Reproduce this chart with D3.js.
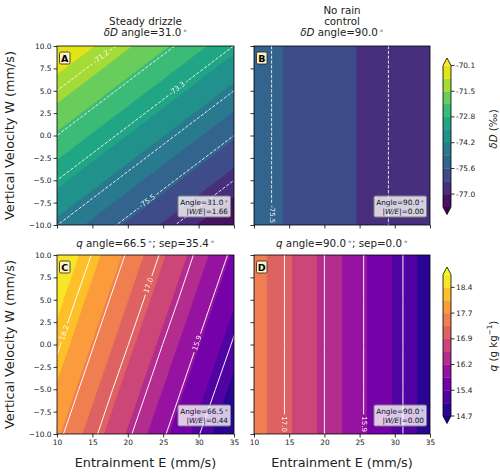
<!DOCTYPE html>
<html>
<head>
<meta charset="utf-8">
<script src="https://cdn.jsdelivr.net/npm/d3@7"></script>
<style>
  body { margin: 0; background: #fff; }
  svg { font-family: 'DejaVu Sans', sans-serif; }
</style>
</head>
<body>
<div id="chart"></div>
<script>
// grid where the fields were read (E along columns, W along rows, W=-10 first)
const entrainmentGrid = [10, 15, 20, 25, 30, 35];
const velocityGrid = [-10, -5, 0, 5, 10];

// panel A: deltaD, steady drizzle (permil)
const dDDrizzle = [
  [-74.41, -75.06, -75.71, -76.36, -77.01, -77.66],
  [-73.33, -73.98, -74.63, -75.28, -75.93, -76.58],
  [-72.25, -72.90, -73.55, -74.20, -74.85, -75.50],
  [-71.17, -71.82, -72.47, -73.12, -73.77, -74.42],
  [-70.09, -70.74, -71.39, -72.04, -72.69, -73.34]
];
// panel B: deltaD, no rain control
const dDNoRain = [
  [-75.34, -75.66, -75.99, -76.31, -76.64, -76.96],
  [-75.34, -75.66, -75.99, -76.31, -76.64, -76.96],
  [-75.34, -75.66, -75.99, -76.31, -76.64, -76.96],
  [-75.34, -75.66, -75.99, -76.31, -76.64, -76.96],
  [-75.34, -75.66, -75.99, -76.31, -76.64, -76.96]
];
// panel C: q, steady drizzle (g/kg)
const qDrizzle = [
  [17.72, 17.12, 16.51, 15.91, 15.30, 14.70],
  [17.98, 17.38, 16.77, 16.17, 15.57, 14.96],
  [18.25, 17.64, 17.04, 16.43, 15.83, 15.23],
  [18.51, 17.90, 17.30, 16.70, 16.09, 15.49],
  [18.77, 18.17, 17.56, 16.96, 16.35, 15.75]
];
// panel D: q, no rain control
const qNoRain = [
  [17.48, 16.96, 16.44, 15.92, 15.40, 14.88],
  [17.48, 16.96, 16.44, 15.92, 15.40, 14.88],
  [17.48, 16.96, 16.44, 15.92, 15.40, 14.88],
  [17.48, 16.96, 16.44, 15.92, 15.40, 14.88],
  [17.48, 16.96, 16.44, 15.92, 15.40, 14.88]
];

const dDFillLevels = [-77.66, -76.97, -76.28, -75.60, -74.91, -74.22, -73.53, -72.84, -72.15, -71.47, -70.78, -70.09];
const dDLineLevels = [-77.66, -76.58, -75.50, -74.42, -73.33, -72.25, -71.17, -70.09];
const dDTicks = [-76.97, -75.60, -74.22, -72.84, -71.47, -70.09];
const dDTickLabels = ['-77.0', '-75.6', '-74.2', '-72.8', '-71.5', '-70.1'];

const qFillLevels = [14.70, 15.07, 15.44, 15.81, 16.18, 16.55, 16.92, 17.29, 17.66, 18.03, 18.40, 18.77];
const qLineLevels = [14.70, 15.28, 15.86, 16.44, 17.03, 17.61, 18.19, 18.77];
const qTicks = [14.70, 15.44, 16.18, 16.92, 17.66, 18.40];
const qTickLabels = ['14.7', '15.4', '16.2', '16.9', '17.7', '18.4'];

const xTicks = [10, 15, 20, 25, 30, 35];
const yTicks = [-10, -7.5, -5, -2.5, 0, 2.5, 5, 7.5, 10];

// where the inline contour labels sit
const labelsA = [{ level: -71.17, text: '-71.2', E: 16.0, W: 9.0 }, { level: -73.33, text: '-73.3', E: 27.1, W: 5.1 }, { level: -75.50, text: '-75.5', E: 22.6, W: -7.2 }];
const labelsB = [{ level: -75.50, text: '-75.5', E: 12.5, W: -8.8 }];
const labelsC = [{ level: 18.19, text: '18.2', E: 11.1, W: 1.3 }, { level: 17.03, text: '17.0', E: 22.6, W: 6.7 }, { level: 15.86, text: '15.9', E: 29.7, W: 0.2 }];
const labelsD = [{ level: 17.03, text: '17.0', E: 14.3, W: -8.9 }, { level: 15.86, text: '15.9', E: 25.7, W: -8.9 }];

const width = 500, height = 473;
const svg = d3.select('#chart').append('svg')
  .attr('width', width).attr('height', height);
const defs = svg.append('defs');

const cols = [{ x0: 57, x1: 234 }, { x0: 254, x1: 430 }];
const rows = [{ y0: 46, y1: 225 }, { y0: 255, y1: 434 }];

const panels = [
  { id: 'A', data: dDDrizzle, fill: dDFillLevels, lines: dDLineLevels, cmap: d3.interpolateViridis, dashed: true, col: 0, row: 0, angle: '31.0', ratio: '1.66', labels: labelsA },
  { id: 'B', data: dDNoRain, fill: dDFillLevels, lines: dDLineLevels, cmap: d3.interpolateViridis, dashed: true, col: 1, row: 0, angle: '90.0', ratio: '0.00', labels: labelsB },
  { id: 'C', data: qDrizzle, fill: qFillLevels, lines: qLineLevels, cmap: d3.interpolatePlasma, dashed: false, col: 0, row: 1, angle: '66.5', ratio: '0.44', labels: labelsC },
  { id: 'D', data: qNoRain, fill: qFillLevels, lines: qLineLevels, cmap: d3.interpolatePlasma, dashed: false, col: 1, row: 1, angle: '90.0', ratio: '0.00', labels: labelsD }
];

const nx = entrainmentGrid.length, ny = velocityGrid.length;
// d3.contours puts sample i at i + 0.5
const gridE = d3.scaleLinear().domain([0.5, nx - 0.5]).range([entrainmentGrid[0], entrainmentGrid[nx - 1]]);
const gridW = d3.scaleLinear().domain([0.5, ny - 0.5]).range([velocityGrid[0], velocityGrid[ny - 1]]);

function bandColor(cmap, levels, k) {
  const nb = levels.length - 1;
  if (k < 0) return cmap(0);
  if (k >= nb) return cmap(1);
  return cmap((k + 0.5) / nb);
}

function degree(sel) {
  sel.append('tspan').attr('font-size', '70%').attr('baseline-shift', '45%').attr('dx', 1.5).text('\u2218');
}

panels.forEach(p => {
  const { x0, x1 } = cols[p.col];
  const { y0, y1 } = rows[p.row];
  const x = d3.scaleLinear().domain([10, 35]).range([x0, x1]);
  const y = d3.scaleLinear().domain([-10, 10]).range([y1, y0]);
  const toPx = pt => [x(gridE(pt[0])), y(gridW(pt[1]))];
  const proj = d3.geoTransform({
    point: function(a, b) { const q = toPx([a, b]); this.stream.point(q[0], q[1]); }
  });
  const path = d3.geoPath(proj);
  const values = p.data.flat();
  const contours = d3.contours().size([nx, ny]);

  defs.append('clipPath').attr('id', 'clip-' + p.id)
    .append('rect').attr('x', x0).attr('y', y0).attr('width', x1 - x0).attr('height', y1 - y0);

  const g = svg.append('g').attr('clip-path', `url(#clip-${p.id})`);
  // filled bands, painted from low to high
  g.append('rect').attr('x', x0).attr('y', y0).attr('width', x1 - x0).attr('height', y1 - y0)
    .attr('fill', bandColor(p.cmap, p.fill, -1));
  p.fill.forEach((lv, k) => {
    g.append('path')
      .attr('d', path(contours.contour(values, lv)))
      .attr('fill', bandColor(p.cmap, p.fill, k))
      .attr('stroke', bandColor(p.cmap, p.fill, k))
      .attr('stroke-width', 0.3);
  });

  // inline labels and the gaps they cut in the lines
  const mask = defs.append('mask').attr('id', 'mask-' + p.id).attr('maskUnits', 'userSpaceOnUse')
    .attr('x', 0).attr('y', 0).attr('width', width).attr('height', height);
  mask.append('rect').attr('width', width).attr('height', height).attr('fill', '#fff');

  const lineG = g.append('g').attr('mask', `url(#mask-${p.id})`);
  p.lines.forEach(lv => {
    lineG.append('path')
      .attr('d', path(contours.contour(values, lv)))
      .attr('fill', 'none')
      .attr('stroke', '#fff')
      .attr('stroke-width', p.dashed ? 0.9 : 1)
      .attr('stroke-dasharray', p.dashed ? '3.2,1.6' : null)
      .attr('opacity', 0.95);
  });

  p.labels.forEach(lb => {
    const mp = contours.contour(values, lb.level);
    const target = [x(lb.E), y(lb.W)];
    let best = null;
    mp.coordinates.forEach(poly => poly.forEach(ring => {
      const r = ring.map(toPx);
      for (let i = 0; i < r.length - 1; i++) {
        const a = r[i], b = r[i + 1];
        const dx = b[0] - a[0], dy = b[1] - a[1];
        const l2 = dx * dx + dy * dy;
        if (l2 < 1e-6) continue;
        let t = ((target[0] - a[0]) * dx + (target[1] - a[1]) * dy) / l2;
        t = Math.max(0, Math.min(1, t));
        const q = [a[0] + t * dx, a[1] + t * dy];
        const d = (q[0] - target[0]) ** 2 + (q[1] - target[1]) ** 2;
        if (!best || d < best.d) best = { d, q, ang: Math.atan2(dy, dx) * 180 / Math.PI };
      }
    }));
    if (!best) return;
    let ang = best.ang;
    while (ang > 90) ang -= 180;
    while (ang <= -90) ang += 180;
    const tr = `translate(${best.q[0]},${best.q[1]}) rotate(${ang})`;
    const t = g.append('text')
      .attr('transform', tr)
      .attr('text-anchor', 'middle')
      .attr('dominant-baseline', 'central')
      .attr('font-size', 7)
      .attr('fill', '#fff')
      .attr('opacity', 0.9)
      .text(lb.text);
    const tw = t.node().getComputedTextLength();
    mask.append('rect')
      .attr('transform', tr)
      .attr('x', -tw / 2 - 2).attr('y', -4).attr('width', tw + 4).attr('height', 8)
      .attr('fill', '#000');
  });

  // frame
  svg.append('rect').attr('x', x0).attr('y', y0).attr('width', x1 - x0).attr('height', y1 - y0)
    .attr('fill', 'none').attr('stroke', '#000').attr('stroke-width', 0.8);

  // axes
  const xAxis = d3.axisBottom(x).tickValues(xTicks).tickSize(3.5).tickPadding(2)
    .tickFormat(p.row === 1 ? d3.format('d') : () => '');
  const yAxis = d3.axisLeft(y).tickValues(yTicks).tickSize(3.5).tickPadding(2)
    .tickFormat(p.col === 0 ? d3.format('.1f') : () => '');
  const gx = svg.append('g').attr('transform', `translate(0,${y1})`).call(xAxis);
  const gy = svg.append('g').attr('transform', `translate(${x0},0)`).call(yAxis);
  [gx, gy].forEach(ax => {
    ax.select('.domain').remove();
    ax.selectAll('line').attr('stroke', '#000').attr('stroke-width', 0.8);
    ax.selectAll('text').attr('font-size', 7.4).attr('fill', '#222').attr('font-family', 'DejaVu Sans');
  });

  // panel letter
  const lg = svg.append('g').attr('transform', `translate(${x0 + 2.5},${y0 + 6})`);
  lg.append('rect').attr('width', 10.5).attr('height', 12).attr('rx', 1.5)
    .attr('fill', '#fff4c4').attr('stroke', '#222').attr('stroke-width', 0.8);
  lg.append('text').attr('x', 5.25).attr('y', 6.3)
    .attr('text-anchor', 'middle').attr('dominant-baseline', 'central')
    .attr('font-size', 9.5).attr('font-weight', 'bold').text(p.id);

  // angle box
  const bg = svg.append('g');
  bg.append('rect').attr('x', x1 - 56).attr('y', y1 - 29).attr('width', 52.5).attr('height', 21).attr('rx', 1.5)
    .attr('fill', '#fff').attr('fill-opacity', 0.78).attr('stroke', '#808080').attr('stroke-width', 1);
  const t1 = bg.append('text').attr('x', x1 - 6).attr('y', y1 - 20).attr('text-anchor', 'end')
    .attr('font-size', 7.3).attr('fill', '#111');
  t1.append('tspan').text('Angle=' + p.angle);
  degree(t1);
  const t2 = bg.append('text').attr('x', x1 - 6).attr('y', y1 - 11.5).attr('text-anchor', 'end')
    .attr('font-size', 7.3).attr('fill', '#111');
  t2.append('tspan').text('|');
  t2.append('tspan').attr('font-style', 'italic').text('W/E');
  t2.append('tspan').text('|=' + p.ratio);
});

// titles
function titleLine(xc, yb, build) {
  const t = svg.append('text').attr('x', xc).attr('y', yb).attr('text-anchor', 'middle')
    .attr('font-size', 10.3).attr('fill', '#222');
  build(t);
}
const cA = (cols[0].x0 + cols[0].x1) / 2, cB = (cols[1].x0 + cols[1].x1) / 2;
titleLine(cA, 24.5, t => t.text('Steady drizzle'));
titleLine(cA, 36, t => { t.append('tspan').attr('font-style', 'italic').text('\u03b4D'); t.append('tspan').text(' angle=31.0'); degree(t); });
titleLine(cB, 13.5, t => t.text('No rain'));
titleLine(cB, 24.5, t => t.text('control'));
titleLine(cB, 36, t => { t.append('tspan').attr('font-style', 'italic').text('\u03b4D'); t.append('tspan').text(' angle=90.0'); degree(t); });
titleLine(cA, 247, t => { t.append('tspan').attr('font-style', 'italic').text('q'); t.append('tspan').text(' angle=66.5'); degree(t); t.append('tspan').text('; sep=35.4'); degree(t); });
titleLine(cB, 247, t => { t.append('tspan').attr('font-style', 'italic').text('q'); t.append('tspan').text(' angle=90.0'); degree(t); t.append('tspan').text('; sep=0.0'); degree(t); });

// axis labels
rows.forEach(r => {
  svg.append('text').attr('transform', `translate(9.5,${(r.y0 + r.y1) / 2}) rotate(-90)`)
    .attr('text-anchor', 'middle').attr('dominant-baseline', 'central')
    .attr('font-size', 12.8).attr('fill', '#222').text('Vertical Velocity W (mm/s)');
});
cols.forEach(c => {
  svg.append('text').attr('x', (c.x0 + c.x1) / 2).attr('y', 462)
    .attr('text-anchor', 'middle').attr('dominant-baseline', 'central')
    .attr('font-size', 12.8).attr('fill', '#222').text('Entrainment E (mm/s)');
});

// colorbars
function colorbar(r, levels, cmap, ticks, tickLabels, labelY, labelBuild) {
  const cx0 = 443, cx1 = 451, ext = 7.5;
  const top = r.y0 + 19.5, bot = r.y1 - 18;
  const s = d3.scaleLinear().domain([levels[0], levels[levels.length - 1]]).range([bot, top]);
  const g = svg.append('g');
  for (let k = 0; k < levels.length - 1; k++) {
    g.append('rect').attr('x', cx0).attr('y', s(levels[k + 1])).attr('width', cx1 - cx0)
      .attr('height', s(levels[k]) - s(levels[k + 1]) + 0.3)
      .attr('fill', bandColor(cmap, levels, k));
  }
  const xm = (cx0 + cx1) / 2;
  g.append('path').attr('d', `M${cx0},${top}L${xm},${top - ext}L${cx1},${top}Z`).attr('fill', bandColor(cmap, levels, levels.length));
  g.append('path').attr('d', `M${cx0},${bot}L${xm},${bot + ext}L${cx1},${bot}Z`).attr('fill', bandColor(cmap, levels, -1));
  g.append('path')
    .attr('d', `M${cx0},${top}L${xm},${top - ext}L${cx1},${top}L${cx1},${bot}L${xm},${bot + ext}L${cx0},${bot}Z`)
    .attr('fill', 'none').attr('stroke', '#000').attr('stroke-width', 0.8);
  ticks.forEach((v, i) => {
    g.append('line').attr('x1', cx1).attr('x2', cx1 + 3.5).attr('y1', s(v)).attr('y2', s(v))
      .attr('stroke', '#000').attr('stroke-width', 0.8);
    g.append('text').attr('x', cx1 + 5).attr('y', s(v)).attr('dominant-baseline', 'central')
      .attr('font-size', 7.4).attr('fill', '#222').text(tickLabels[i]);
  });
  const lab = svg.append('text').attr('transform', `translate(492.5,${labelY}) rotate(-90)`)
    .attr('text-anchor', 'middle').attr('dominant-baseline', 'central')
    .attr('font-size', 10.3).attr('fill', '#222');
  labelBuild(lab);
}
colorbar(rows[0], dDFillLevels, d3.interpolateViridis, dDTicks, dDTickLabels, 129, t => {
  t.append('tspan').attr('font-style', 'italic').text('\u03b4D');
  t.append('tspan').text(' (\u2030)');
});
colorbar(rows[1], qFillLevels, d3.interpolatePlasma, qTicks, qTickLabels, 346, t => {
  t.append('tspan').attr('font-style', 'italic').text('q');
  t.append('tspan').text(' (g kg');
  t.append('tspan').attr('font-size', '70%').attr('baseline-shift', '45%').text('\u22121');
  t.append('tspan').text(')');
});
</script>
</body>
</html>
